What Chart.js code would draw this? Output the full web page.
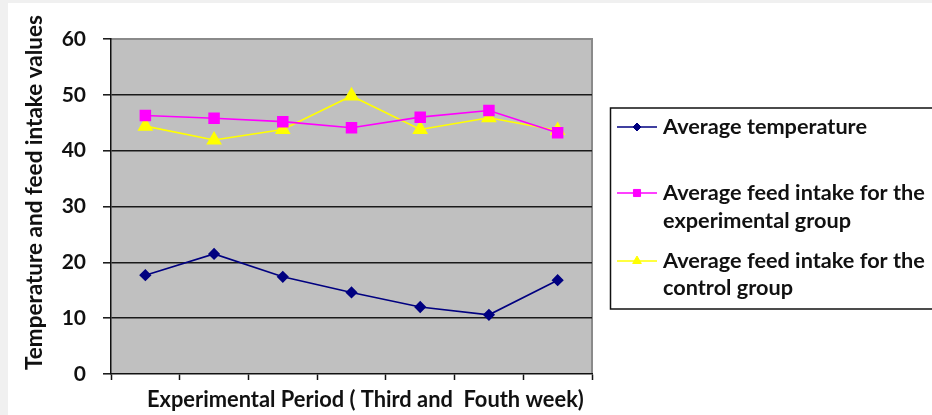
<!DOCTYPE html>
<html>
<head>
<meta charset="utf-8">
<script src="https://cdn.jsdelivr.net/npm/chart.js@4.4.1/dist/chart.umd.min.js"></script>
<style>
  html, body { margin: 0; padding: 0; background: #f0f0f0; }
  #wrap { position: absolute; left: 0; top: 0; width: 932px; height: 415px; }
  canvas { display: block; }
</style>
</head>
<body>
<div id="wrap"><canvas id="c" width="932" height="415"></canvas></div>
<script>
// ---- data ----
const categories = ['1', '2', '3', '4', '5', '6', '7'];
const avgTemperature = [17.7, 21.5, 17.4, 14.6, 12.0, 10.6, 16.8];
const feedExperimental = [46.3, 45.8, 45.2, 44.1, 46.0, 47.2, 43.2];
const feedControl = [44.4, 41.9, 43.8, 49.8, 43.8, 45.9, 43.6];
const yTicks = [0, 10, 20, 30, 40, 50, 60];
const seriesNames = [
  ['Average temperature'],
  ['Average feed intake for the', 'experimental group'],
  ['Average feed intake for the', 'control group']
];
const xTitle = 'Experimental Period ( Third and  Fouth week)';
const yTitle = 'Temperature and feed intake values';

const FONT = 'Lato, "Open Sans", sans-serif';

function fitSize(ctx, text, width, weight) {
  ctx.font = weight + ' 100px ' + FONT;
  const w = ctx.measureText(text).width;
  return 100 * width / w;
}

const bgPlugin = {
  id: 'bg',
  beforeDraw(chart) {
    const ctx = chart.ctx, a = chart.chartArea;
    ctx.save();
    ctx.fillStyle = '#f0f0f0';
    ctx.fillRect(0, 0, chart.width, chart.height);
    ctx.fillStyle = '#ffffff';
    ctx.fillRect(8, 3, chart.width - 8, chart.height - 3);
    ctx.fillStyle = '#c0c0c0';
    ctx.fillRect(a.left, a.top, a.right - a.left, a.bottom - a.top);
    ctx.strokeStyle = '#8a8a8a';
    ctx.lineWidth = 2;
    ctx.beginPath();
    ctx.moveTo(a.left, a.top);
    ctx.lineTo(a.right, a.top);
    ctx.lineTo(a.right, a.bottom);
    ctx.stroke();
    ctx.restore();
  },
  afterDraw(chart) {
    const ctx = chart.ctx;
    ctx.save();
    ctx.fillStyle = '#111';
    ctx.textBaseline = 'alphabetic';
    // x title
    let s = fitSize(ctx, xTitle, 437, 'bold');
    ctx.font = 'bold ' + s + 'px ' + FONT;
    ctx.textAlign = 'left';
    ctx.fillText(xTitle, 147, 407);
    // y title
    s = fitSize(ctx, yTitle, 355, 'bold');
    ctx.font = 'bold ' + s + 'px ' + FONT;
    ctx.translate(42, 192.5);
    ctx.rotate(-Math.PI / 2);
    ctx.textAlign = 'center';
    ctx.fillText(yTitle, 0, 0);
    ctx.restore();

    // legend
    ctx.save();
    ctx.strokeStyle = '#111';
    ctx.lineWidth = 1.5;
    ctx.strokeRect(610.5, 108, 340, 201);
    const ls = fitSize(ctx, seriesNames[1][0], 262, 'bold');
    ctx.font = 'bold ' + ls + 'px ' + FONT;
    ctx.fillStyle = '#111';
    ctx.textAlign = 'left';
    const rows = [
      { line: 127, base: [134] },
      { line: 193, base: [200, 228] },
      { line: 261, base: [268, 295] }
    ];
    chart.data.datasets.forEach((ds, i) => {
      const r = rows[i];
      ctx.strokeStyle = ds.borderColor;
      ctx.lineWidth = 1.5;
      ctx.beginPath();
      ctx.moveTo(617, r.line);
      ctx.lineTo(657, r.line);
      ctx.stroke();
      ctx.fillStyle = ds.pointBackgroundColor;
      ctx.strokeStyle = ds.pointBorderColor;
      ctx.lineWidth = 1;
      Chart.helpers.drawPoint(ctx, {
        pointStyle: ds.pointStyle,
        radius: ds.legendRadius,
        rotation: 0,
        borderWidth: 1
      }, 637, r.line);
      ctx.fillStyle = '#111';
      seriesNames[i].forEach((t, k) => ctx.fillText(t, 663, r.base[k]));
    });
    ctx.restore();
  }
};

new Chart(document.getElementById('c'), {
  type: 'line',
  data: {
    labels: categories,
    datasets: [
      {
        label: seriesNames[0].join(' '),
        data: avgTemperature,
        borderColor: '#000080',
        backgroundColor: '#000080',
        pointBackgroundColor: '#000080',
        pointBorderColor: '#000080',
        pointStyle: 'rectRot',
        pointRadius: 5,
        legendRadius: 4,
        borderWidth: 1.6,
        tension: 0
      },
      {
        label: seriesNames[1].join(' '),
        data: feedExperimental,
        borderColor: '#ff00ff',
        backgroundColor: '#ff00ff',
        pointBackgroundColor: '#ff00ff',
        pointBorderColor: '#ff00ff',
        pointStyle: 'rect',
        pointRadius: 7,
        legendRadius: 5,
        borderWidth: 1.6,
        tension: 0
      },
      {
        label: seriesNames[2].join(' '),
        data: feedControl,
        borderColor: '#ffff00',
        backgroundColor: '#ffff00',
        pointBackgroundColor: '#ffff00',
        pointBorderColor: '#ffff00',
        pointStyle: 'triangle',
        pointRadius: 7.5,
        legendRadius: 5,
        borderWidth: 1.6,
        tension: 0
      }
    ]
  },
  options: {
    responsive: false,
    animation: false,
    devicePixelRatio: 1,
    layout: { padding: { left: 8, top: 39, right: 340, bottom: 0 } },
    plugins: { legend: { display: false }, tooltip: { enabled: false } },
    scales: {
      x: {
        type: 'category',
        offset: true,
        afterFit(s) { s.height = 41; },
        grid: {
          offset: true,
          drawOnChartArea: false,
          drawTicks: true,
          tickLength: 6,
          tickColor: '#111',
          tickWidth: 1.5
        },
        border: { display: true, color: '#111', width: 1.5 },
        ticks: { display: false }
      },
      y: {
        min: 0,
        max: 60,
        afterFit(s) { s.width = 103; },
        afterBuildTicks(s) { s.ticks = yTicks.map(v => ({ value: v })); },
        grid: {
          color: (c) => (c.tick && (c.tick.value === 60 || c.tick.value === 0)) ? 'rgba(0,0,0,0)' : '#1a1a1a',
          lineWidth: 1.6,
          tickLength: 8,
          tickColor: '#111',
          tickWidth: 1.5
        },
        border: { display: true, color: '#111', width: 1.5 },
        ticks: {
          padding: 17,
          color: '#111',
          font: { family: FONT, weight: 'bold', size: 21 }
        }
      }
    }
  },
  plugins: [bgPlugin]
});
</script>
</body>
</html>
